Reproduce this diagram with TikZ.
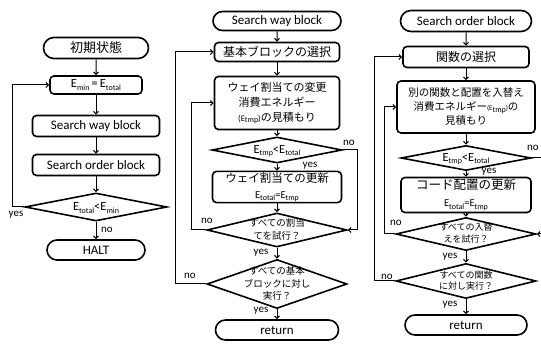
\documentclass[tikz,border=0pt]{standalone}
\usepackage{fontspec}
\setmainfont{Carlito}
\newfontfamily\jp{Noto Sans CJK JP}
\usetikzlibrary{shapes.geometric,shapes.misc,arrows.meta}
\newcommand\Es[1]{E\raisebox{-0.45ex}{\fontsize{8}{8}\selectfont #1}}
\newcommand\dtext[1]{\smash{\raisebox{-0.3em}{\makebox[0pt]{\begin{tabular}{@{}c@{}}#1\end{tabular}}}}}
\tikzset{
  boxn/.style={draw, line width=1.6pt, rounded corners=4pt, inner sep=1pt, align=center},
  term/.style={draw, line width=1.6pt, rounded rectangle, inner sep=1pt},
  dia/.style={draw, diamond, line width=1.6pt, inner sep=0pt},
  arr/.style={line width=1pt, -{Straight Barb[length=2.5pt,width=5pt,line width=1.1pt]}},
  lbl/.style={font=\fontsize{11}{12}\selectfont, inner sep=0pt},
  lat/.style={font=\fontsize{13}{14}\selectfont},
}
\begin{document}
\begin{tikzpicture}[x=1pt,y=-1pt]
\useasboundingbox (0,0) rectangle (541,347);
\fill[white] (0,0) rectangle (541,347);
\clip (0,0) rectangle (541,347);
% ---------- column 1 ----------
\node[term, minimum width=107pt, minimum height=21pt, font=\jp\fontsize{13}{14}\selectfont] (s1) at (96,48) {初期状態};
\node[boxn, minimum width=92pt, minimum height=18pt, font=\fontsize{12.5}{13}\selectfont] (b1) at (96,85) {\Es{min}\,=\,\Es{total}};
\node[boxn, lat, minimum width=127pt, minimum height=21pt] (b2) at (96,126) {Search way block};
\node[boxn, lat, minimum width=127pt, minimum height=21pt] (b3) at (96,165) {Search order block};
\node[dia, minimum width=142pt, minimum height=28pt, font=\fontsize{12.5}{13}\selectfont] (d1) at (96,207) {\dtext{\Es{total}<\Es{min}}};
\node[term, lat, minimum width=100pt, minimum height=20pt] (h1) at (96,250) {HALT};
\draw[arr] (s1) -- (b1);
\draw[arr] (b1) -- (b2);
\draw[arr] (b2) -- (b3);
\draw[arr] (b3) -- (d1);
\draw[arr] (d1) -- (h1);
\draw[arr] (d1.west) -- ++(-12,0) |- (b1.west);
\node[lbl] (y1) at (16,215) {yes};
\node[lbl] (n1) at (107,230) {no};
% ---------- column 2 ----------
\node[term, lat, minimum width=130pt, minimum height=19pt] (s2) at (277,21) {Search way block};
\node[boxn, minimum width=125pt, minimum height=19pt, font=\jp\fontsize{12}{13}\selectfont] (c1) at (277,52) {基本ブロックの選択};
\node[boxn, minimum width=125pt, minimum height=53pt, font=\jp\fontsize{11}{15}\selectfont] (c2) at (277,103) {ウェイ割当ての変更\\消費エネルギー\\{\rmfamily\fontsize{8.5}{9}\selectfont(\Es{tmp})}の見積もり};
\node[dia, minimum width=130pt, minimum height=26pt, font=\fontsize{12.5}{13}\selectfont] (e1) at (277,150) {\dtext{\Es{tmp}<\Es{total}}};
\node[boxn, minimum width=129pt, minimum height=31pt, font=\jp\fontsize{11.5}{16}\selectfont] (c3) at (277,187) {ウェイ割当ての更新\\{\rmfamily\fontsize{10.5}{11}\selectfont\Es{total}=\Es{tmp}}};
\node[dia, minimum width=140pt, minimum height=34pt, font=\jp\fontsize{9.5}{13}\selectfont] (e2) at (277,230) {\dtext{すべての割当\\てを試行？}};
\node[dia, minimum width=140pt, minimum height=49pt, font=\jp\fontsize{9.5}{12.5}\selectfont] (e3) at (277,284) {\dtext{すべての基本\\ブロックに対し\\実行？}};
\node[term, lat, minimum width=125pt, minimum height=20pt] (r2) at (277,330) {return};
\draw[arr] (s2) -- (c1);
\draw[arr] (c1) -- (c2);
\draw[arr] (c2) -- (e1);
\draw[arr] (e1) -- (c3);
\draw[arr] (c3) -- (e2);
\draw[arr] (e2) -- (e3);
\draw[arr] (e3) -- (r2);
\draw[arr] (e1.east) -- ++(15,0) |- (e2.east);
\draw[arr] (e2.west) -- ++(-15,0) |- (c2.west);
\draw[arr] (e3.west) -- ++(-31,0) |- (c1.west);
\node[lbl] (n2) at (349,143) {no};
\node[lbl] (y2) at (310,166) {yes};
\node[lbl] (n3) at (207,221) {no};
\node[lbl] (y3) at (261,253) {yes};
\node[lbl] (n4) at (190,276) {no};
\node[lbl] (y4) at (261,311) {yes};
% ---------- column 3 ----------
\node[term, lat, minimum width=133pt, minimum height=21pt] (s3) at (466,21) {Search order block};
\node[boxn, minimum width=126pt, minimum height=21pt, font=\jp\fontsize{12}{13}\selectfont] (f1) at (466,57) {関数の選択};
\node[boxn, minimum width=138pt, minimum height=52pt, font=\jp\fontsize{10.5}{14}\selectfont] (f2) at (466,107) {別の関数と配置を入替え\\消費エネルギー{\rmfamily\fontsize{7}{8}\selectfont(\Es{tmp})}の\\見積もり};
\node[dia, minimum width=130pt, minimum height=25pt, font=\fontsize{12.5}{13}\selectfont] (g1) at (466,158) {\dtext{\Es{tmp}<\Es{total}}};
\node[boxn, minimum width=130pt, minimum height=35pt, font=\jp\fontsize{12.5}{17}\selectfont] (f3) at (466,195) {コード配置の更新\\{\rmfamily\fontsize{10.5}{11}\selectfont\Es{total}=\Es{tmp}}};
\node[dia, minimum width=140pt, minimum height=33pt, font=\jp\fontsize{9}{11.5}\selectfont] (g2) at (466,234) {\dtext{すべての入替\\えを試行？}};
\node[dia, minimum width=140pt, minimum height=35pt, font=\jp\fontsize{9}{11}\selectfont] (g3) at (466,281) {\dtext{すべての関数\\に対し実行？}};
\node[term, lat, minimum width=124pt, minimum height=20pt] (r3) at (466,325) {return};
\draw[arr] (s3) -- (f1);
\draw[arr] (f1) -- (f2);
\draw[arr] (f2) -- (g1);
\draw[arr] (g1) -- (f3);
\draw[arr] (f3) -- (g2);
\draw[arr] (g2) -- (g3);
\draw[arr] (g3) -- (r3);
\draw[arr] (g1.east) -- ++(15,0) |- (g2.east);
\draw[arr] (g2.west) -- ++(-11,0) |- (f2.west);
\draw[arr] (g3.west) -- ++(-21,0) |- (f1.west);
\node[lbl] (n5) at (533,148) {no};
\node[lbl] (y5) at (489,172) {yes};
\node[lbl] (n6) at (396,223) {no};
\node[lbl] (y6) at (450,257) {yes};
\node[lbl] (n7) at (387,277) {no};
\node[lbl] (y7) at (450,305) {yes};
\end{tikzpicture}
\end{document}
